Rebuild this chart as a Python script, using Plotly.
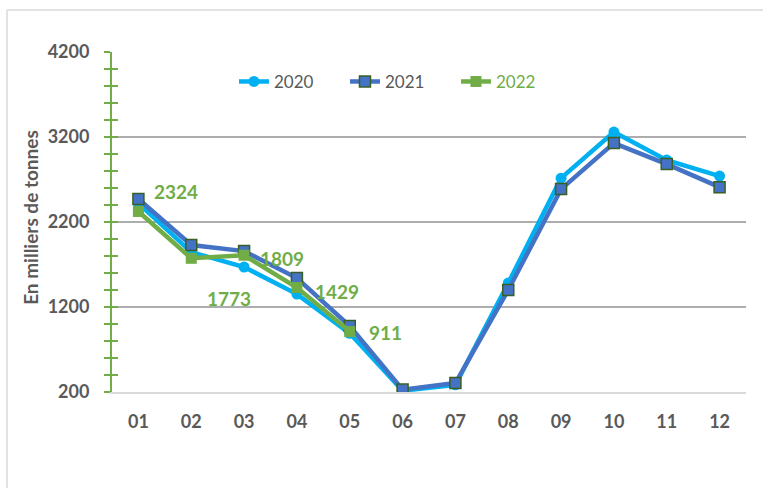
import plotly.graph_objects as go

months = ["01", "02", "03", "04", "05", "06", "07", "08", "09", "10", "11", "12"]
v2020 = [2420, 1846, 1670, 1352, 890, 215, 285, 1482, 2716, 3258, 2928, 2740]
v2021 = [2470, 1929, 1858, 1540, 976, 228, 306, 1400, 2587, 3128, 2881, 2610]
v2022 = [2324, 1773, 1809, 1429, 911]
labels2022 = ["2324", "1773", "1809", "1429", "911"]
y_title = "En milliers de tonnes"

# label offsets (px) for 2022 data labels
label_dx = [38, 38, 38, 40, 36]
label_dy = [20, -40, -3, -4, -1]

GREEN = "#70AD47"
GREY_TXT = "#595959"
FONT = "Lato"

fig = go.Figure()
fig.add_trace(go.Scatter(
    x=months, y=v2020, name="2020", mode="lines+markers",
    line=dict(color="#00B0F0", width=4.5),
    marker=dict(symbol="circle", size=11, color="#00B0F0"),
))
fig.add_trace(go.Scatter(
    x=months, y=v2021, name="2021", mode="lines+markers",
    line=dict(color="#4472C4", width=4.5),
    marker=dict(symbol="square", size=11, color="#4472C4",
                line=dict(color="#3A5F24", width=1.5)),
))
fig.add_trace(go.Scatter(
    x=months[:len(v2022)], y=v2022,
    name="<span style='color:%s'>2022</span>" % GREEN, mode="lines+markers",
    line=dict(color=GREEN, width=4.5),
    marker=dict(symbol="square", size=11, color=GREEN),
))
# invisible trace on yaxis2 to get crossing ticks
fig.add_trace(go.Scatter(x=months, y=v2021, yaxis="y2", mode="lines",
                         line=dict(width=0), showlegend=False, hoverinfo="skip"))

for i, (v, t, dx, dy) in enumerate(zip(v2022, labels2022, label_dx, label_dy)):
    fig.add_annotation(x=i, y=v, text="<b>%s</b>" % t, showarrow=False,
                       xshift=dx, yshift=dy,
                       font=dict(family=FONT, size=19, color=GREEN))

# y-axis title as a rotated annotation
fig.add_annotation(xref="paper", yref="paper", x=-0.1278, y=0.515,
                   text="<b>%s</b>" % y_title, showarrow=False, textangle=-90,
                   xanchor="center", yanchor="middle",
                   font=dict(family=FONT, size=19, color=GREY_TXT))

fig.update_layout(
    width=763, height=488,
    margin=dict(l=112, r=17, t=52, b=96),
    paper_bgcolor="white", plot_bgcolor="white",
    font=dict(family=FONT, color=GREY_TXT),
    showlegend=True,
    legend=dict(orientation="h", x=0.455, y=0.912, xanchor="center", yanchor="middle",
                font=dict(family=FONT, size=17, color=GREY_TXT),
                bgcolor="rgba(0,0,0,0)", entrywidth=66, entrywidthmode="pixels"),
    xaxis=dict(
        type="category", range=[-0.5, 11.5],
        showgrid=False, showline=True, linecolor="#D9D9D9", linewidth=2,
        ticks="", ticklabelstandoff=12, automargin=False,
        tickfont=dict(family=FONT, size=18, color=GREY_TXT, weight="bold"),
    ),
    yaxis=dict(
        range=[200, 4200], tickvals=[200, 1200, 2200, 3200, 4200],
        showgrid=True, gridcolor="#ADADAD", gridwidth=1.5,
        showline=True, linecolor=GREEN, linewidth=2,
        ticks="outside", ticklen=6, tickcolor=GREEN, tickwidth=2,
        minor=dict(dtick=200, ticks="outside", ticklen=6, tickcolor=GREEN, tickwidth=1.5, showgrid=False),
        ticklabelstandoff=11, automargin=False,
        tickfont=dict(family=FONT, size=18, color=GREY_TXT, weight="bold"),
        zeroline=False,
    ),
    yaxis2=dict(
        overlaying="y", side="left", range=[200, 4200],
        tickvals=[200, 1200, 2200, 3200, 4200],
        showgrid=False, showline=False, showticklabels=False,
        ticks="inside", ticklen=6, tickcolor=GREEN, tickwidth=2,
        minor=dict(dtick=200, ticks="inside", ticklen=6, tickcolor=GREEN, tickwidth=1.5, showgrid=False),
        zeroline=False,
    ),
)

# outer chart border (top and left visible)
fig.add_shape(type="line", xref="paper", yref="paper", x0=-0.1656, x1=1.1, y0=1.1235, y1=1.1235,
              line=dict(color="#D9D9D9", width=1.5), layer="below")
fig.add_shape(type="line", xref="paper", yref="paper", x0=-0.1656, x1=-0.1656, y0=1.1235, y1=-0.5,
              line=dict(color="#D9D9D9", width=1.5), layer="below")

fig.write_html("out.html", config={"displayModeBar": False},
               post_script="document.body.style.margin='0';")
